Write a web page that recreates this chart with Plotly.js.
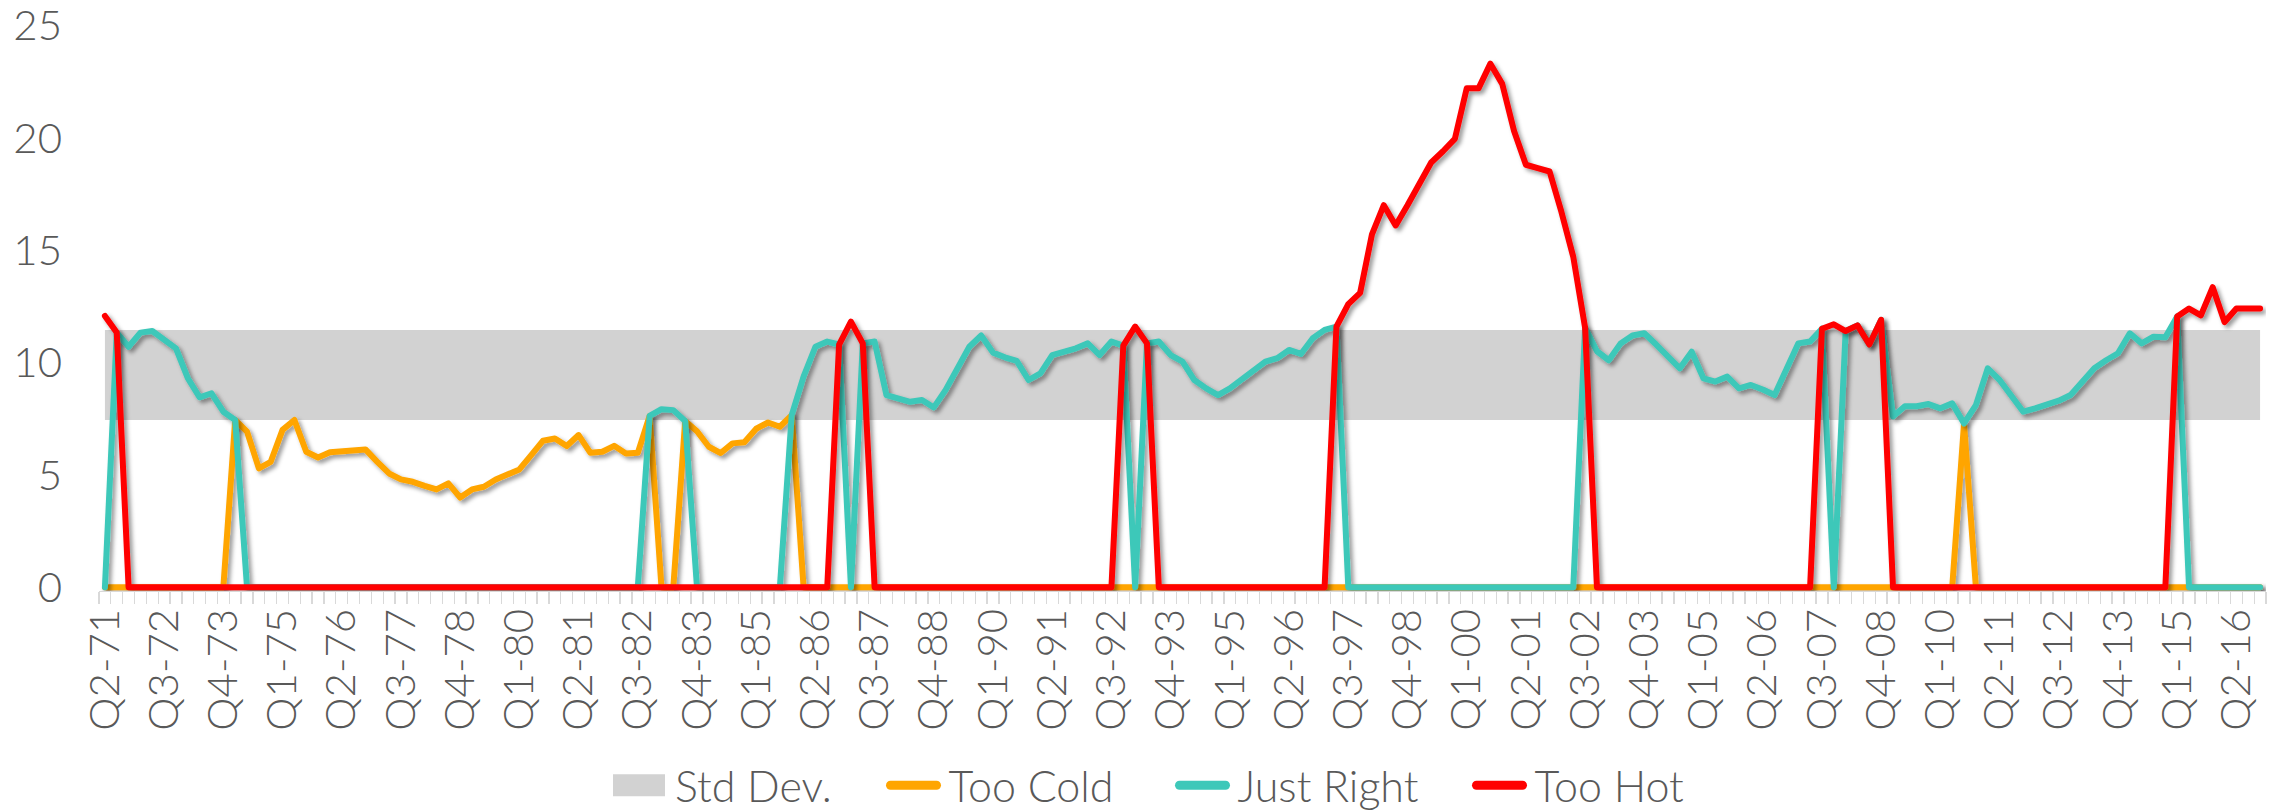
<!DOCTYPE html>
<html>
<head>
<meta charset="utf-8">
<script src="https://cdn.plot.ly/plotly-3.0.1.min.js"></script>
<style>
  html, body { margin: 0; padding: 0; background: #ffffff; }
  #chart { width: 2277px; height: 812px; }
</style>
</head>
<body>
<div id="chart"></div>
<script>
// Quarterly categories, Q2-71 through Q4-16
const categories = [
  "Q2-71","Q3-71","Q4-71",
  "Q1-72","Q2-72","Q3-72","Q4-72","Q1-73","Q2-73","Q3-73","Q4-73",
  "Q1-74","Q2-74","Q3-74","Q4-74","Q1-75","Q2-75","Q3-75","Q4-75",
  "Q1-76","Q2-76","Q3-76","Q4-76","Q1-77","Q2-77","Q3-77","Q4-77",
  "Q1-78","Q2-78","Q3-78","Q4-78","Q1-79","Q2-79","Q3-79","Q4-79",
  "Q1-80","Q2-80","Q3-80","Q4-80","Q1-81","Q2-81","Q3-81","Q4-81",
  "Q1-82","Q2-82","Q3-82","Q4-82","Q1-83","Q2-83","Q3-83","Q4-83",
  "Q1-84","Q2-84","Q3-84","Q4-84","Q1-85","Q2-85","Q3-85","Q4-85",
  "Q1-86","Q2-86","Q3-86","Q4-86","Q1-87","Q2-87","Q3-87","Q4-87",
  "Q1-88","Q2-88","Q3-88","Q4-88","Q1-89","Q2-89","Q3-89","Q4-89",
  "Q1-90","Q2-90","Q3-90","Q4-90","Q1-91","Q2-91","Q3-91","Q4-91",
  "Q1-92","Q2-92","Q3-92","Q4-92","Q1-93","Q2-93","Q3-93","Q4-93",
  "Q1-94","Q2-94","Q3-94","Q4-94","Q1-95","Q2-95","Q3-95","Q4-95",
  "Q1-96","Q2-96","Q3-96","Q4-96","Q1-97","Q2-97","Q3-97","Q4-97",
  "Q1-98","Q2-98","Q3-98","Q4-98","Q1-99","Q2-99","Q3-99","Q4-99",
  "Q1-00","Q2-00","Q3-00","Q4-00","Q1-01","Q2-01","Q3-01","Q4-01",
  "Q1-02","Q2-02","Q3-02","Q4-02","Q1-03","Q2-03","Q3-03","Q4-03",
  "Q1-04","Q2-04","Q3-04","Q4-04","Q1-05","Q2-05","Q3-05","Q4-05",
  "Q1-06","Q2-06","Q3-06","Q4-06","Q1-07","Q2-07","Q3-07","Q4-07",
  "Q1-08","Q2-08","Q3-08","Q4-08","Q1-09","Q2-09","Q3-09","Q4-09",
  "Q1-10","Q2-10","Q3-10","Q4-10","Q1-11","Q2-11","Q3-11","Q4-11",
  "Q1-12","Q2-12","Q3-12","Q4-12","Q1-13","Q2-13","Q3-13","Q4-13",
  "Q1-14","Q2-14","Q3-14","Q4-14","Q1-15","Q2-15","Q3-15","Q4-15",
  "Q1-16","Q2-16","Q3-16","Q4-16"
];

// Labelled quarters on the category axis
const tickLabels = [
  "Q2-71","Q3-72","Q4-73","Q1-75","Q2-76","Q3-77","Q4-78","Q1-80","Q2-81",
  "Q3-82","Q4-83","Q1-85","Q2-86","Q3-87","Q4-88","Q1-90","Q2-91","Q3-92",
  "Q4-93","Q1-95","Q2-96","Q3-97","Q4-98","Q1-00","Q2-01","Q3-02","Q4-03",
  "Q1-05","Q2-06","Q3-07","Q4-08","Q1-10","Q2-11","Q3-12","Q4-13","Q1-15","Q2-16"
];

// Standard-deviation band (lower and upper edge)
const stdDevLow = 7.44;
const stdDevHigh = 11.45;

const tooCold = [
  0,0,0,0,0,0,0,0,0,0,
  0,7.44,6.92,5.29,5.58,7.0,7.44,6.03,5.77,6.0,
  6.03,6.04,6.13,5.58,5.06,4.8,4.69,4.51,4.35,4.62,
  3.99,4.35,4.47,4.79,4.99,5.24,5.88,6.52,6.62,6.28,
  6.77,5.98,6.03,6.29,5.95,5.98,7.62,0,0,7.4,
  6.94,6.25,5.97,6.4,6.45,7.05,7.33,7.14,7.66,0,
  0,0,0,0,0,0,0,0,0,0,
  0,0,0,0,0,0,0,0,0,0,
  0,0,0,0,0,0,0,0,0,0,
  0,0,0,0,0,0,0,0,0,0,
  0,0,0,0,0,0,0,0,0,0,
  0,0,0,0,0,0,0,0,0,0,
  0,0,0,0,0,0,0,0,0,0,
  0,0,0,0,0,0,0,0,0,0,
  0,0,0,0,0,0,0,0,0,0,
  0,0,0,0,0,0,0,7.29,0,0,
  0,0,0,0,0,0,0,0,0,0,
  0,0,0,0,0,0,0,0,0,0,
  0,0,0
];

const justRight = [
  0,11.33,10.7,11.33,11.4,11.0,10.63,9.3,8.45,8.63,
  7.81,7.44,0,0,0,0,0,0,0,0,
  0,0,0,0,0,0,0,0,0,0,
  0,0,0,0,0,0,0,0,0,0,
  0,0,0,0,0,0,7.62,7.92,7.88,7.4,
  0,0,0,0,0,0,0,0,7.66,9.37,
  10.7,10.93,10.8,0,10.85,10.93,8.55,8.4,8.25,8.33,
  8.0,8.78,9.74,10.7,11.2,10.44,10.23,10.07,9.22,9.52,
  10.33,10.48,10.63,10.85,10.33,10.93,10.75,0,10.85,10.93,
  10.33,10.04,9.22,8.85,8.55,8.85,9.27,9.67,10.04,10.19,
  10.56,10.38,11.08,11.45,11.6,0,0,0,0,0,
  0,0,0,0,0,0,0,0,0,0,
  0,0,0,0,0,11.55,10.5,10.1,10.85,11.2,
  11.3,10.8,10.3,9.74,10.48,9.29,9.15,9.37,8.85,9.0,
  8.8,8.55,9.7,10.85,10.93,11.5,0,11.4,11.65,10.8,
  11.9,7.6,8.05,8.05,8.15,7.96,8.18,7.29,8.1,9.74,
  9.22,8.5,7.81,7.96,8.1,8.3,8.55,9.1,9.74,10.1,
  10.41,11.3,10.85,11.15,11.12,12.05,0,0,0,0,
  0,0,0
];

const tooHot = [
  12.07,11.33,0,0,0,0,0,0,0,0,
  0,0,0,0,0,0,0,0,0,0,
  0,0,0,0,0,0,0,0,0,0,
  0,0,0,0,0,0,0,0,0,0,
  0,0,0,0,0,0,0,0,0,0,
  0,0,0,0,0,0,0,0,0,0,
  0,0,10.8,11.82,10.85,0,0,0,0,0,
  0,0,0,0,0,0,0,0,0,0,
  0,0,0,0,0,0,10.75,11.6,10.85,0,
  0,0,0,0,0,0,0,0,0,0,
  0,0,0,0,11.6,12.6,13.1,15.7,17.0,16.1,
  17.0,18.0,18.9,19.4,19.95,22.2,22.2,23.3,22.4,20.3,
  18.8,18.65,18.5,16.7,14.7,11.55,0,0,0,0,
  0,0,0,0,0,0,0,0,0,0,
  0,0,0,0,0,11.5,11.7,11.4,11.65,10.8,
  11.9,0,0,0,0,0,0,0,0,0,
  0,0,0,0,0,0,0,0,0,0,
  0,0,0,0,0,12.05,12.4,12.1,13.35,11.8,
  12.4,12.4,12.4
];

const TEXT = '#595959';
const FONT = 'Lato, "Liberation Sans", "DejaVu Sans", sans-serif';
const COLORS = { band: '#D2D2D2', cold: '#FFA500', right: '#3EC8B9', hot: '#FF0000' };

// left edge (page px) of each legend swatch
const LEGEND_SWATCH_LEFT = [613, 886, 1175, 1472];

const bandX = [categories[0], categories[categories.length - 1]];

const traces = [
  { x: bandX, y: [stdDevLow, stdDevLow], type: 'scatter', mode: 'lines',
    line: { width: 0, color: COLORS.band }, showlegend: false, hoverinfo: 'skip' },
  { x: bandX, y: [stdDevHigh, stdDevHigh], type: 'scatter', mode: 'lines',
    fill: 'tonexty', fillcolor: COLORS.band, line: { width: 0, color: COLORS.band },
    name: 'Std Dev.' },
  { x: categories, y: tooCold, type: 'scatter', mode: 'lines',
    line: { color: COLORS.cold, width: 6 }, name: 'Too Cold' },
  { x: categories, y: justRight, type: 'scatter', mode: 'lines',
    line: { color: COLORS.right, width: 6 }, name: 'Just Right' },
  { x: categories, y: tooHot, type: 'scatter', mode: 'lines',
    line: { color: COLORS.hot, width: 6 }, name: 'Too Hot' }
];

const layout = {
  width: 2277, height: 812,
  margin: { l: 99, r: 11, t: 25, b: 221.2, autoexpand: false },
  paper_bgcolor: '#ffffff', plot_bgcolor: '#ffffff',
  font: { family: FONT, size: 42, color: TEXT, weight: 300 },
  showlegend: true,
  legend: {
    orientation: 'h', traceorder: 'normal',
    x: 0.5, xanchor: 'center', y: -0.3432, yanchor: 'middle',
    font: { family: FONT, size: 43, color: TEXT, weight: 300 },
    itemwidth: 56, tracegroupgap: 0, bgcolor: 'rgba(0,0,0,0)'
  },
  xaxis: {
    type: 'category', categoryorder: 'array', categoryarray: categories,
    range: [-0.5, categories.length - 0.5],
    tickmode: 'array', tickvals: categories,
    ticktext: categories.map(c => tickLabels.includes(c) ? c : ''),
    tickson: 'boundaries', ticks: 'outside', ticklen: 12, tickwidth: 1.3, tickcolor: '#D9D9D9',
    tickangle: -90, tickfont: { family: FONT, size: 42, color: TEXT, weight: 300 },
    showline: true, linecolor: '#D9D9D9', linewidth: 1,
    showgrid: false, zeroline: false, automargin: false, fixedrange: true
  },
  yaxis: {
    range: [-0.17, 25.02], tickmode: 'array', tickvals: [0, 5, 10, 15, 20, 25],
    ticks: '', ticklabelstandoff: 36, ticklabeloverflow: 'allow',
    tickfont: { family: FONT, size: 42, color: TEXT, weight: 300 },
    showline: false, showgrid: false, zeroline: false, automargin: false, fixedrange: true
  }
};

Plotly.newPlot('chart', traces, layout, { displayModeBar: false, staticPlot: true }).then(gd => {
  // soft drop shadow under the three data lines
  const svgNS = 'http://www.w3.org/2000/svg';
  const defs = gd.querySelector('.main-svg defs');
  const filter = document.createElementNS(svgNS, 'filter');
  filter.setAttribute('id', 'lineShadow');
  filter.setAttribute('filterUnits', 'userSpaceOnUse');
  filter.setAttribute('x', '-200'); filter.setAttribute('y', '-200');
  filter.setAttribute('width', '3000'); filter.setAttribute('height', '1400');
  const shadow = document.createElementNS(svgNS, 'feDropShadow');
  shadow.setAttribute('dx', '3'); shadow.setAttribute('dy', '3');
  shadow.setAttribute('stdDeviation', '2.2');
  shadow.setAttribute('flood-color', '#000'); shadow.setAttribute('flood-opacity', '0.4');
  filter.appendChild(shadow);
  defs.appendChild(filter);

  const groups = gd.querySelectorAll('.scatterlayer .trace');
  groups.forEach((g, i) => {
    if (i < 2) return;
    g.querySelectorAll('path.js-line').forEach(p => {
      p.setAttribute('filter', 'url(#lineShadow)');
      p.style.strokeLinejoin = 'round';
      p.style.strokeLinecap = 'round';
    });
  });

  // legend swatches: longer line samples and a square band patch,
  // then spread the entries out along the row
  const legend = gd.querySelector('.legend');
  const items = legend.querySelectorAll('.traces');
  items.forEach((t, i) => {
    const fill = t.querySelector('.legendfill path');
    const line = t.querySelector('.legendlines path');
    let sym, capPad = 0;
    if (fill) {
      fill.setAttribute('d', 'M4,-11h52v22h-52z');
      if (line) line.style.display = 'none';
      sym = fill;
    } else if (line) {
      line.setAttribute('d', 'M8,0h46');
      line.style.strokeWidth = '9px';
      line.style.strokeLinecap = 'round';
      sym = line; capPad = 4.5;
    }
    if (!sym || LEGEND_SWATCH_LEFT[i] === undefined) return;
    const left = sym.getBoundingClientRect().left;
    const dx = LEGEND_SWATCH_LEFT[i] + capPad - left;
    const m = /translate\(\s*([-\d.e]+)[ ,]+([-\d.e]+)\s*\)/.exec(t.getAttribute('transform') || '');
    const tx = m ? parseFloat(m[1]) : 0, ty = m ? parseFloat(m[2]) : 0;
    t.setAttribute('transform', 'translate(' + (tx + dx) + ',' + ty + ')');
  });

  // grow the legend box and its clip region to hold the spread-out entries
  const bg = legend.querySelector('rect.bg');
  const scroll = legend.querySelector('.scrollbox');
  if (bg) {
    const bgBox = bg.getBoundingClientRect();
    const ox = bgBox.left - parseFloat(bg.getAttribute('x') || 0);
    const oy = bgBox.top - parseFloat(bg.getAttribute('y') || 0);
    let l = Infinity, r = -Infinity, tp = Infinity, b = -Infinity;
    items.forEach(t => {
      const rc = t.getBoundingClientRect();
      l = Math.min(l, rc.left); r = Math.max(r, rc.right);
      tp = Math.min(tp, rc.top); b = Math.max(b, rc.bottom);
    });
    const pad = 4;
    const box = { x: l - ox - pad, y: tp - oy - pad, width: r - l + 2 * pad, height: b - tp + 2 * pad };
    Object.keys(box).forEach(k => bg.setAttribute(k, box[k]));
    const cp = scroll && scroll.getAttribute('clip-path');
    const idm = cp && /#([^)"']+)/.exec(cp);
    const clip = idm && document.getElementById(idm[1]);
    const clipRect = clip && clip.querySelector('rect');
    if (clipRect) Object.keys(box).forEach(k => clipRect.setAttribute(k, box[k]));
  }
});
</script>
</body>
</html>
